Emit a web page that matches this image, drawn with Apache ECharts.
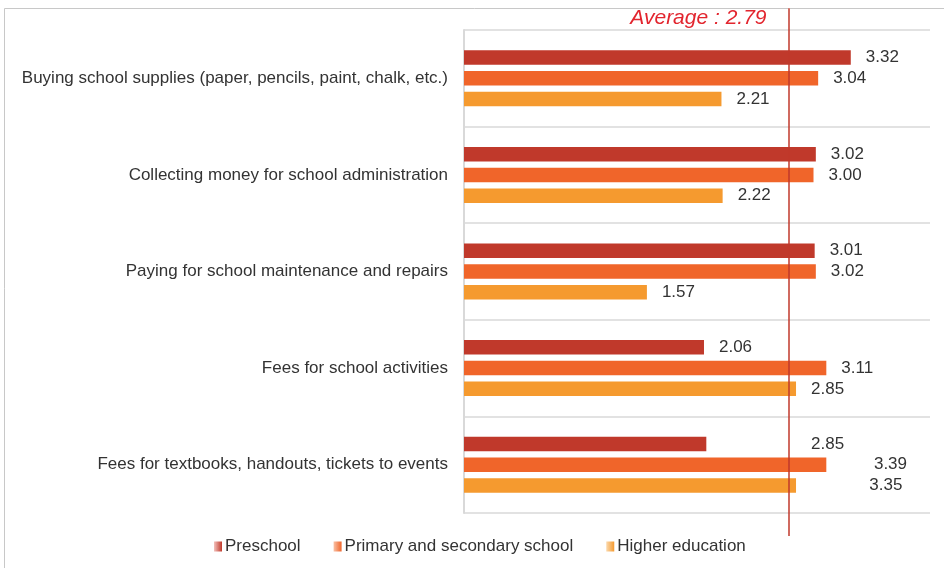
<!DOCTYPE html>
<html>
<head>
<meta charset="utf-8">
<script src="https://cdn.jsdelivr.net/npm/echarts@6/dist/echarts.min.js"></script>
<style>
html,body{margin:0;padding:0;background:#fff;}
#c{width:944px;height:568px;}
</style>
</head>
<body>
<div id="c"></div>
<script>
// ---- data ----
const categories = [
  "Buying school supplies (paper, pencils, paint, chalk, etc.)",
  "Collecting money for school administration",
  "Paying for school maintenance and repairs",
  "Fees for school activities",
  "Fees for textbooks, handouts, tickets to events"
];
const seriesNames = ["Preschool", "Primary and secondary school", "Higher education"];
// bar lengths as drawn
const preschoolBars = [3.32, 3.02, 3.01, 2.06, 2.08];
const primaryBars   = [3.04, 3.00, 3.02, 3.11, 3.11];
const higherBars    = [2.21, 2.22, 1.57, 2.85, 2.85];
// values printed in labels
const preschoolLabels = [3.32, 3.02, 3.01, 2.06, 2.85];
const primaryLabels   = [3.04, 3.00, 3.02, 3.11, 3.39];
const higherLabels    = [2.21, 2.22, 1.57, 2.85, 3.35];
const average = 2.79;
const xMin = 0, xMax = 4;

const colors = ["#c0392b", "#f0652a", "#f59a2f"];
const legendGrad = [["#f3c1bc", "#c0392b"], ["#f9c0a4", "#f0652a"], ["#fbd9ad", "#f59a2f"]];
const font = "Liberation Sans, Arial, sans-serif";

const barsList = [preschoolBars, primaryBars, higherBars];
const labelsList = [preschoolLabels, primaryLabels, higherLabels];

const series = [];
for (let i = 0; i < 3; i++) {
  series.push({
    name: seriesNames[i], type: "bar", stack: "g" + i,
    xAxisIndex: 0, yAxisIndex: 0,
    barWidth: 14.5, barGap: "43%", barCategoryGap: "42%",
    itemStyle: { color: colors[i] },
    data: barsList[i],
    z: 2
  });
  series.push({
    name: "_lab" + i, type: "bar", stack: "g" + i,
    xAxisIndex: 0, yAxisIndex: 0,
    barWidth: 14.5, barGap: "43%", barCategoryGap: "42%",
    itemStyle: { color: "rgba(0,0,0,0)" },
    silent: true,
    label: {
      show: true, position: "right", distance: 15,
      color: "#333", fontSize: 17, fontFamily: font,
      formatter: (p) => labelsList[i][p.dataIndex].toFixed(2)
    },
    data: labelsList[i].map((v, k) => +(v - barsList[i][k]).toFixed(2)),
    z: 2
  });
}
// average line in its own taller grid
series.push({
  type: "line", xAxisIndex: 1, yAxisIndex: 1, data: [],
  markLine: {
    silent: true, symbol: "none",
    lineStyle: { color: "#c0392b", width: 1.5, type: "solid" },
    label: { show: false },
    data: [{ xAxis: average }]
  },
  z: 5
});
series.push({
  type: "scatter", xAxisIndex: 1, yAxisIndex: 1,
  symbol: "rect", symbolSize: 1,
  itemStyle: { color: "#ffffff", opacity: 1 },
  silent: true,
  label: {
    show: true, position: "left", distance: 22, offset: [0, 10], opacity: 1,
    color: "#e2252e", fontSize: 21, fontStyle: "italic", fontFamily: font,
    formatter: () => "Average : " + average.toFixed(2)
  },
  data: [[average, 1]],
  z: 5
});

const chart = echarts.init(document.getElementById("c"));
chart.setOption({
  animation: false,
  backgroundColor: "#fff",
  graphic: [{
    type: "rect", shape: { x: 4.5, y: 8.5, width: 960, height: 600 },
    style: { fill: "none", stroke: "#c8c8c8", lineWidth: 1 }, silent: true
  }],
  legend: {
    data: seriesNames.map((n, i) => ({
      name: n,
      itemStyle: { color: new echarts.graphic.LinearGradient(0, 0, 1, 0, [
        { offset: 0, color: legendGrad[i][0] }, { offset: 1, color: legendGrad[i][1] }]) }
    })),
    bottom: 8, left: 209,
    icon: "rect", itemWidth: 8, itemHeight: 10, itemGap: 33,
    textStyle: { color: "#333", fontSize: 17, fontFamily: font, padding: [0, 0, 0, -2] },
    selectedMode: false
  },
  grid: [
    { left: 464, right: 14, top: 30, bottom: 55 },
    { left: 464, right: 14, top: 8, bottom: 32 }
  ],
  xAxis: [
    { type: "value", min: xMin, max: xMax, show: false, gridIndex: 0 },
    { type: "value", min: xMin, max: xMax, show: false, gridIndex: 1 }
  ],
  yAxis: [
    {
      type: "category", data: categories, inverse: true, gridIndex: 0,
      axisLine: { show: true, lineStyle: { color: "#d9d9d9", width: 2 } },
      axisTick: { show: false },
      splitLine: { show: true, lineStyle: { color: "#d9d9d9", width: 1.5 } },
      axisLabel: { color: "#333", fontSize: 17, fontFamily: font, margin: 16 }
    },
    { type: "value", min: 0, max: 1, show: false, gridIndex: 1 }
  ],
  series: series
});
</script>
</body>
</html>
